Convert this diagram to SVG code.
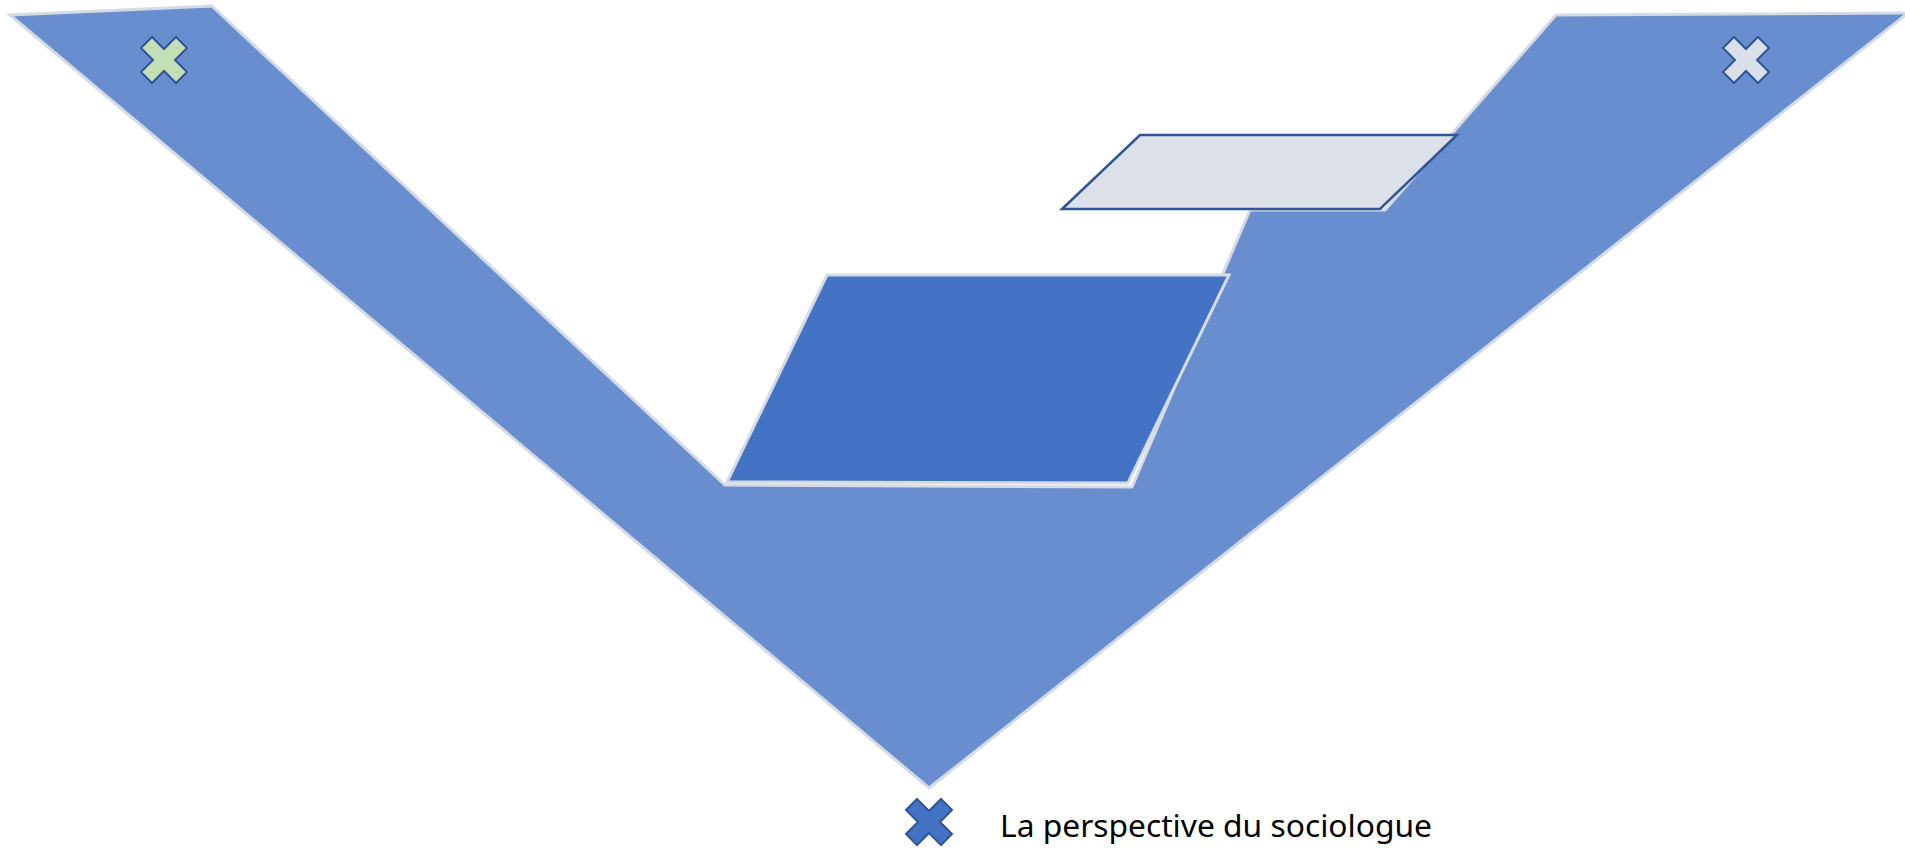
<svg xmlns="http://www.w3.org/2000/svg" width="1905" height="849" viewBox="0 0 1905 849">
<defs>
<style>
.band{fill:#698ED0;stroke:#D5DBE5;stroke-width:3;stroke-linejoin:miter}
.mid{fill:#4472C4;stroke:#D5DBE5;stroke-width:3}
.top{fill:#DCE1E9;stroke:#2F5597;stroke-width:2.5}
.x{stroke:#2F5597;stroke-width:2;stroke-linejoin:miter}
.label{font-family:"Noto Sans","Open Sans","Liberation Sans",sans-serif;font-size:31px;fill:#000}
</style>
<polygon id="xshape" points="0,-11 12,-23 23,-12 11,0 23,12 12,23 0,11 -12,23 -23,12 -11,0 -23,-12 -12,-23"/>
</defs>
<rect width="1905" height="849" fill="#FFFFFF"/>
<g id="band">
<polygon class="band" points="10,15 212,6 725,485 1132,487 1250,210 1385,210 1556,15 1908,13 929,788"/>
</g>
<g id="middle-block">
<polygon class="mid" points="827,275 1229,275 1128,483 727,482"/>
</g>
<g id="top-block">
<polygon class="top" points="1140,135 1457,135 1380,209 1062,209"/>
</g>
<g id="marker-left">
<use href="#xshape" class="x" x="164" y="60" fill="#C5E0B4"/>
</g>
<g id="marker-right">
<use href="#xshape" class="x" x="1746" y="60" fill="#DAE0EA"/>
</g>
<g id="legend">
<use href="#xshape" class="x" x="929" y="822" fill="#4472C4"/>
<text class="label" x="1000" y="837" textLength="432" lengthAdjust="spacingAndGlyphs">La perspective du sociologue</text>
</g>
<g id="connectors"></g>
</svg>
